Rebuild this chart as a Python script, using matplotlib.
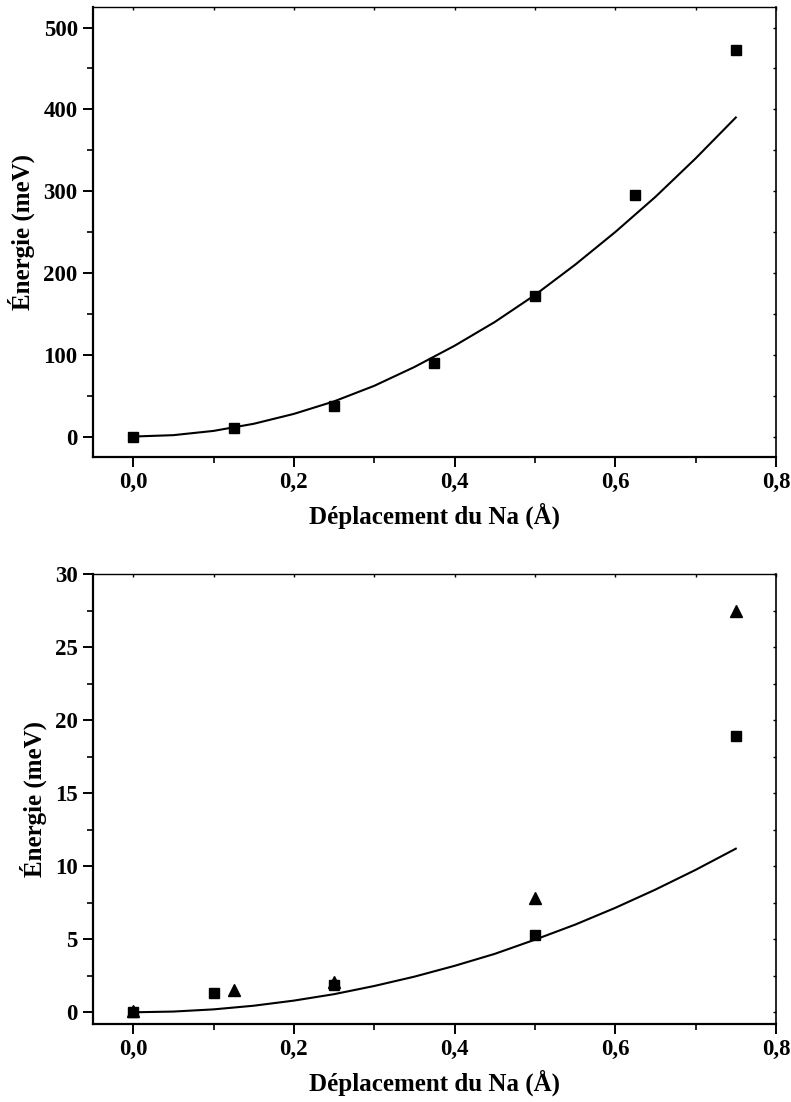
import numpy as np
import matplotlib
matplotlib.use("Agg")
import matplotlib.pyplot as plt
from matplotlib.ticker import MultipleLocator, FuncFormatter

plt.rcParams['font.family'] = ['Liberation Serif', 'DejaVu Serif']
plt.rcParams['font.weight'] = 'bold'

# top panel: energy vs Na displacement
x_top = [0.0, 0.125, 0.25, 0.375, 0.5, 0.625, 0.75]
e_top = [0, 10, 37, 90, 172, 295, 472]
# fitted curve
fit_x = [0.0, 0.05, 0.1, 0.15, 0.2, 0.25, 0.3, 0.35, 0.4, 0.45, 0.5, 0.55, 0.6, 0.65, 0.7, 0.75]
fit_top = [0, 1.7, 6.9, 15.6, 27.7, 43, 62, 85, 111, 140, 173, 210, 250, 293, 340, 390]

# bottom panel: two sets of points
x_sq = [0.0, 0.1, 0.25, 0.5, 0.75]
e_sq = [0.0, 1.3, 1.9, 5.3, 18.9]
x_tri = [0.0, 0.125, 0.25, 0.5, 0.75]
e_tri = [0.1, 1.5, 2.1, 7.8, 27.5]
fit_bot = [0, 0.05, 0.2, 0.45, 0.8, 1.24, 1.8, 2.44, 3.18, 4.0, 4.97, 6.0, 7.15, 8.4, 9.75, 11.2]

xlabel = "Déplacement du Na (Å)"
ylabel = "Énergie (meV)"

fig = plt.figure(figsize=(7.91, 11.02), dpi=100)
ax1 = fig.add_axes([0.1176, 0.5853, 0.8634, 0.4083])
ax2 = fig.add_axes([0.1176, 0.0708, 0.8634, 0.4083])

comma = FuncFormatter(lambda v, p: f"{v:.1f}".replace(".", ","))


def style(ax, ymajor, yminor):
    ax.xaxis.set_major_locator(MultipleLocator(0.2))
    ax.xaxis.set_minor_locator(MultipleLocator(0.1))
    ax.xaxis.set_major_formatter(comma)
    ax.yaxis.set_major_locator(MultipleLocator(ymajor))
    ax.yaxis.set_minor_locator(MultipleLocator(yminor))
    ax.spines['left'].set_linewidth(1.6)
    ax.spines['bottom'].set_linewidth(1.6)
    ax.spines['top'].set_linewidth(1.0)
    ax.spines['right'].set_linewidth(1.2)
    ax.tick_params(which='major', direction='out', length=7, width=1.4,
                   labelsize=16.5, pad=4, top=False, right=False)
    ax.tick_params(which='minor', direction='out', length=4, width=1.2,
                   top=False, right=False)
    # small inward ticks on top and right
    sec_x = ax.secondary_xaxis('top')
    sec_x.xaxis.set_major_locator(MultipleLocator(0.1))
    sec_x.tick_params(direction='in', length=2.5, width=1.0, labeltop=False)
    sec_x.spines['top'].set_visible(False)
    sec_y = ax.secondary_yaxis('right')
    sec_y.yaxis.set_major_locator(MultipleLocator(yminor))
    sec_y.tick_params(direction='in', length=2.5, width=1.0, labelright=False)
    sec_y.spines['right'].set_visible(False)
    for lab in ax.get_xticklabels() + ax.get_yticklabels():
        lab.set_fontweight('bold')
    ax.set_xlabel(xlabel, fontsize=18, fontweight='bold', labelpad=7)
    ax.set_ylabel(ylabel, fontsize=18, fontweight='bold', labelpad=6)


ax1.plot(fit_x, fit_top, color='black', linewidth=1.5)
ax1.plot(x_top, e_top, linestyle='none', marker='s', markersize=7,
         color='black')
ax1.set_xlim(-0.05, 0.8)
ax1.set_ylim(-25, 525)
style(ax1, 100, 50)

ax2.plot(fit_x, fit_bot, color='black', linewidth=1.5)
ax2.plot(x_sq, e_sq, linestyle='none', marker='s', markersize=7,
         color='black')
ax2.plot(x_tri, e_tri, linestyle='none', marker='^', markersize=8,
         color='black')
ax2.set_xlim(-0.05, 0.8)
ax2.set_ylim(-0.8, 30)
style(ax2, 5, 2.5)

fig.savefig("out.png", dpi=100)
